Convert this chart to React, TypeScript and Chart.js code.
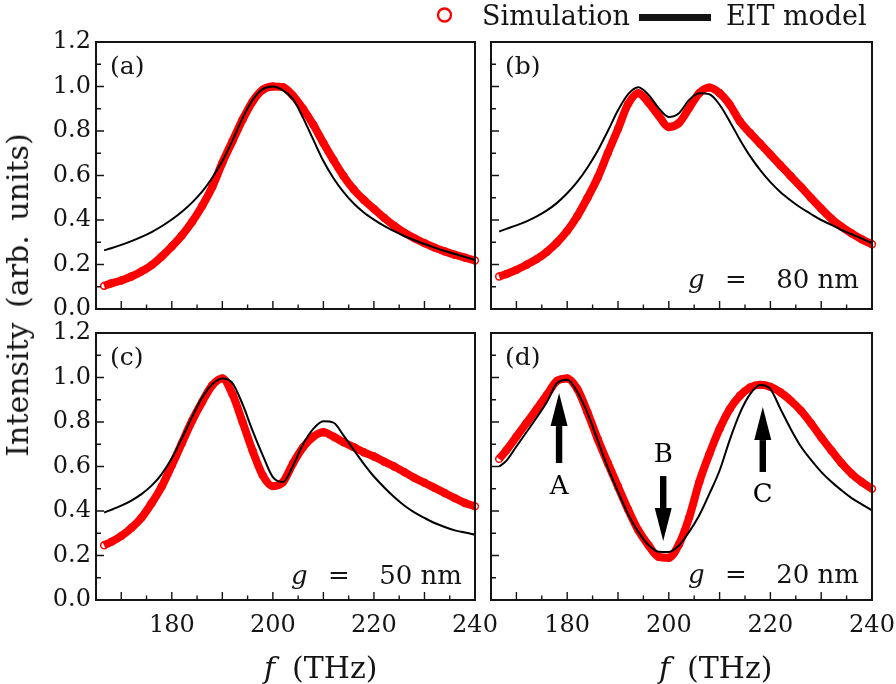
import React, { useEffect, useRef } from 'react';
import { Chart, registerables } from 'chart.js';

Chart.register(...registerables);

// ---------- data ----------
const FREQ = [166.6, 168, 170, 172, 174, 176, 178, 180, 182, 184, 186, 188, 190, 192, 194, 196, 198, 200, 202, 204, 206, 208, 210, 212, 214, 216, 218, 220, 222, 224, 226, 228, 230, 232, 234, 236, 238, 240];

const SIM_A = [0.104, 0.115, 0.128, 0.146, 0.169, 0.197, 0.236, 0.281, 0.331, 0.391, 0.463, 0.548, 0.657, 0.754, 0.851, 0.933, 0.985, 1.0, 0.997, 0.958, 0.899, 0.828, 0.746, 0.669, 0.597, 0.537, 0.49, 0.45, 0.41, 0.374, 0.343, 0.318, 0.296, 0.276, 0.259, 0.244, 0.231, 0.218];
const EIT_A = [0.264, 0.273, 0.288, 0.305, 0.324, 0.346, 0.372, 0.402, 0.437, 0.478, 0.527, 0.59, 0.665, 0.757, 0.858, 0.94, 0.988, 1.0, 0.983, 0.943, 0.858, 0.761, 0.665, 0.588, 0.525, 0.474, 0.434, 0.402, 0.374, 0.35, 0.328, 0.309, 0.292, 0.276, 0.261, 0.247, 0.234, 0.22];

const SIM_B = [0.146, 0.157, 0.176, 0.199, 0.224, 0.257, 0.299, 0.351, 0.418, 0.5, 0.59, 0.701, 0.809, 0.922, 0.97, 0.928, 0.869, 0.818, 0.836, 0.903, 0.97, 0.995, 0.97, 0.918, 0.843, 0.791, 0.743, 0.694, 0.645, 0.597, 0.549, 0.499, 0.451, 0.406, 0.37, 0.34, 0.313, 0.291];
const EIT_B = [0.348, 0.36, 0.376, 0.394, 0.416, 0.443, 0.477, 0.52, 0.572, 0.636, 0.711, 0.8, 0.893, 0.966, 0.997, 0.963, 0.903, 0.863, 0.88, 0.94, 0.97, 0.965, 0.918, 0.843, 0.761, 0.687, 0.624, 0.57, 0.525, 0.488, 0.455, 0.427, 0.4, 0.378, 0.355, 0.336, 0.316, 0.296];

const SIM_C = [0.246, 0.261, 0.288, 0.324, 0.37, 0.435, 0.51, 0.605, 0.705, 0.805, 0.89, 0.965, 0.996, 0.925, 0.8, 0.67, 0.56, 0.512, 0.53, 0.615, 0.687, 0.734, 0.754, 0.734, 0.709, 0.687, 0.664, 0.645, 0.622, 0.6, 0.575, 0.549, 0.527, 0.504, 0.481, 0.458, 0.436, 0.421];
const EIT_C = [0.393, 0.405, 0.424, 0.447, 0.476, 0.514, 0.566, 0.637, 0.727, 0.822, 0.91, 0.97, 0.996, 0.975, 0.88, 0.76, 0.65, 0.552, 0.53, 0.604, 0.701, 0.769, 0.803, 0.797, 0.739, 0.675, 0.612, 0.555, 0.507, 0.463, 0.425, 0.394, 0.369, 0.346, 0.328, 0.313, 0.303, 0.294];

const SIM_D = [0.634, 0.672, 0.734, 0.796, 0.858, 0.922, 0.985, 0.996, 0.948, 0.843, 0.724, 0.615, 0.51, 0.406, 0.313, 0.246, 0.194, 0.19, 0.25, 0.37, 0.53, 0.657, 0.769, 0.858, 0.918, 0.955, 0.967, 0.958, 0.933, 0.896, 0.851, 0.794, 0.731, 0.672, 0.615, 0.567, 0.53, 0.5];
const EIT_D = [0.6, 0.625, 0.69, 0.755, 0.82, 0.89, 0.975, 0.99, 0.935, 0.84, 0.718, 0.595, 0.487, 0.385, 0.306, 0.247, 0.217, 0.216, 0.245, 0.306, 0.381, 0.478, 0.582, 0.72, 0.84, 0.925, 0.966, 0.948, 0.858, 0.769, 0.69, 0.63, 0.576, 0.531, 0.493, 0.458, 0.43, 0.403];

const X_TICKS = [180, 200, 220, 240];
const Y_TICKS = [0, 0.2, 0.4, 0.6, 0.8, 1.0, 1.2];
const X_MAJOR_MARKS = [170, 180, 190, 200, 210, 220, 230, 240];
const X_MINOR_MARKS = [175, 185, 195, 205, 215, 225, 235];
const Y_MAJOR_MARKS = [0.2, 0.4, 0.6, 0.8, 1.0];
const Y_MINOR_MARKS = [0.1, 0.3, 0.5, 0.7, 0.9, 1.1];

const SERIES_NAMES = ['Simulation', 'EIT model'];
const PANEL_LABELS = ['(a)', '(b)', '(c)', '(d)'];
const GAP_VALUES = ['', '80 nm', '50 nm', '20 nm'];
const X_TITLE_VAR = 'f';
const X_TITLE_UNIT = '(THz)';
const Y_TITLE = 'Intensity (arb. units)';

const ARROW_LABELS = ['A', 'B', 'C'];
const ARROW_X = [178.4, 198.9, 218.5];
const ARROW_TAIL = [0.62, 0.557, 0.58];
const ARROW_TIP = [0.93, 0.265, 0.867];
const ARROW_LABEL_Y = [0.508, 0.652, 0.472];

// ---------- styles / layout ----------
const FONT = "'DejaVu Serif', serif";
const INK = '#141414';
const RED = 'rgb(255,0,0)';

type PanelSpec = {
  idx: number; sim: number[]; eit: number[];
  left: number; top: number; w: number; h: number;
  padTop: number; padRight: number; yW: number; xH: number;
  showX: boolean; showY: boolean; gBase: number;
};

const PANELS: PanelSpec[] = [
  { idx: 0, sim: SIM_A, eit: EIT_A, left: 0, top: 0, w: 515, h: 330, padTop: 42, padRight: 40, yW: 96, xH: 21, showX: false, showY: true, gBase: 21 },
  { idx: 1, sim: SIM_B, eit: EIT_B, left: 425, top: 0, w: 487, h: 330, padTop: 42, padRight: 40, yW: 66, xH: 21, showX: false, showY: false, gBase: 21 },
  { idx: 2, sim: SIM_C, eit: EIT_C, left: 0, top: 300, w: 515, h: 384, padTop: 33, padRight: 40, yW: 96, xH: 84, showX: true, showY: true, gBase: 16 },
  { idx: 3, sim: SIM_D, eit: EIT_D, left: 425, top: 300, w: 487, h: 384, padTop: 33, padRight: 40, yW: 66, xH: 84, showX: true, showY: false, gBase: 17 },
];

function decoPlugin(p: PanelSpec) {
  return {
    id: 'deco' + p.idx,
    afterDatasetsDraw(chart: any) {
      const { ctx, chartArea: ca, scales } = chart;
      const x = scales.x, y = scales.y;
      ctx.save();
      // inward tick marks
      ctx.strokeStyle = INK;
      ctx.lineWidth = 1.4;
      ctx.beginPath();
      X_MAJOR_MARKS.forEach((v) => { const px = x.getPixelForValue(v); ctx.moveTo(px, ca.bottom); ctx.lineTo(px, ca.bottom - 8); });
      X_MINOR_MARKS.forEach((v) => { const px = x.getPixelForValue(v); ctx.moveTo(px, ca.bottom); ctx.lineTo(px, ca.bottom - 4.5); });
      Y_MAJOR_MARKS.forEach((v) => { const py = y.getPixelForValue(v); ctx.moveTo(ca.left, py); ctx.lineTo(ca.left + 8, py); });
      Y_MINOR_MARKS.forEach((v) => { const py = y.getPixelForValue(v); ctx.moveTo(ca.left, py); ctx.lineTo(ca.left + 5, py); });
      ctx.stroke();
      // frame
      ctx.lineWidth = 2;
      ctx.strokeRect(ca.left, ca.top, ca.right - ca.left, ca.bottom - ca.top);

      ctx.fillStyle = INK;
      ctx.textBaseline = 'alphabetic';
      // panel label
      ctx.font = `25px ${FONT}`;
      ctx.textAlign = 'left';
      ctx.fillText(PANEL_LABELS[p.idx], ca.left + 14, ca.top + 32);

      // gap label
      const gv = GAP_VALUES[p.idx];
      if (gv) {
        const by = ca.bottom - p.gBase;
        ctx.font = `italic 26px ${FONT}`;
        ctx.textAlign = 'left';
        ctx.fillText('g', ca.right - 184, by);
        ctx.font = `26px ${FONT}`;
        ctx.textAlign = 'center';
        ctx.fillText('=', ca.right - 136, by);
        ctx.textAlign = 'right';
        ctx.fillText(gv, ca.right - 13, by);
      }

      // x title
      if (p.showX) {
        const by = ca.bottom + 78;
        ctx.textAlign = 'left';
        ctx.font = `italic 30px ${FONT}`;
        ctx.fillText(X_TITLE_VAR, ca.left + 168, by);
        ctx.font = `30px ${FONT}`;
        ctx.fillText(X_TITLE_UNIT, ca.left + 196, by);
      }

      // legend (top right)
      if (p.idx === 1) {
        const ds = chart.data.datasets;
        const ly = 25;
        ctx.strokeStyle = RED;
        ctx.lineWidth = 2.3;
        ctx.beginPath();
        ctx.arc(ca.left - 46.5, 15, 6.5, 0, Math.PI * 2);
        ctx.stroke();
        ctx.font = `27px ${FONT}`;
        ctx.textAlign = 'left';
        ctx.fillStyle = INK;
        ctx.fillText(ds[1].label, ca.left - 9, ly);
        ctx.fillRect(ca.left + 148, 14, 72, 7);
        ctx.fillText(ds[0].label, ca.left + 235, ly);
      }

      // arrows in (d)
      if (p.idx === 3) {
        ctx.fillStyle = '#000';
        ARROW_X.forEach((fx, i) => {
          const px = x.getPixelForValue(fx);
          const tail = y.getPixelForValue(ARROW_TAIL[i]);
          const tip = y.getPixelForValue(ARROW_TIP[i]);
          const dir = Math.sign(tip - tail);
          const base = tip - dir * 33;
          ctx.fillRect(px - 3.2, Math.min(tail, base), 6.4, Math.abs(base - tail) + 1);
          ctx.beginPath();
          ctx.moveTo(px, tip);
          ctx.lineTo(px - 8.5, base);
          ctx.lineTo(px + 8.5, base);
          ctx.closePath();
          ctx.fill();
          ctx.font = `26px ${FONT}`;
          ctx.textAlign = 'center';
          ctx.textBaseline = 'middle';
          ctx.fillText(ARROW_LABELS[i], px, y.getPixelForValue(ARROW_LABEL_Y[i]));
        });
      }
      ctx.restore();
    },
  };
}

function makeConfig(p: PanelSpec): any {
  return {
    type: 'line',
    data: {
      datasets: [
        {
          label: SERIES_NAMES[1],
          data: FREQ.map((f, i) => ({ x: f, y: p.eit[i] })),
          borderColor: '#000',
          borderWidth: 2,
          pointRadius: 0,
          cubicInterpolationMode: 'monotone',
          fill: false,
          order: 0,
        },
        {
          label: SERIES_NAMES[0],
          data: FREQ.map((f, i) => ({ x: f, y: p.sim[i] })),
          borderColor: RED,
          borderWidth: 8,
          pointRadius: 3.4,
          pointBorderWidth: 1.5,
          pointBorderColor: RED,
          pointBackgroundColor: 'rgba(0,0,0,0)',
          cubicInterpolationMode: 'monotone',
          fill: false,
          clip: false,
          order: 1,
        },
      ],
    },
    options: {
      responsive: false,
      devicePixelRatio: 1,
      animation: false,
      events: [],
      layout: { padding: { left: 0, top: p.padTop, right: p.padRight, bottom: 0 } },
      plugins: { legend: { display: false }, tooltip: { enabled: false } },
      scales: {
        x: {
          type: 'linear',
          min: 165,
          max: 240,
          afterBuildTicks: (s: any) => { s.ticks = X_TICKS.map((v) => ({ value: v })); },
          afterFit: (s: any) => { s.height = p.xH; },
          grid: { display: false, drawTicks: false },
          border: { display: false },
          ticks: {
            display: p.showX,
            autoSkip: false,
            maxRotation: 0,
            padding: 11,
            color: INK,
            font: { family: FONT, size: 24 },
          },
        },
        y: {
          type: 'linear',
          min: 0,
          max: 1.2,
          afterBuildTicks: (s: any) => { s.ticks = Y_TICKS.map((v) => ({ value: v })); },
          afterFit: (s: any) => { s.width = p.yW; },
          grid: { display: false, drawTicks: false },
          border: { display: false },
          ticks: {
            display: p.showY,
            padding: 5,
            color: INK,
            font: { family: FONT, size: 24 },
            callback: (v: any) => Number(v).toFixed(1),
          },
        },
      },
    },
    plugins: [decoPlugin(p)],
  };
}

function Panel({ spec }: { spec: PanelSpec }) {
  const ref = useRef<HTMLCanvasElement>(null);
  useEffect(() => {
    const chart = new Chart(ref.current as HTMLCanvasElement, makeConfig(spec));
    return () => chart.destroy();
  }, [spec]);
  return (
    <canvas
      ref={ref}
      width={spec.w}
      height={spec.h}
      style={{ position: 'absolute', left: spec.left, top: spec.top, width: spec.w, height: spec.h }}
    />
  );
}

export default function App() {
  return (
    <div style={{ position: 'fixed', left: 0, top: 0, width: 896, height: 684, overflow: 'hidden', background: '#fff' }}>
      {PANELS.map((p) => (
        <Panel key={p.idx} spec={p} />
      ))}
      <div
        style={{
          position: 'absolute',
          left: 18,
          top: 295,
          transform: 'translate(-50%, -50%) rotate(-90deg)',
          font: `30px ${FONT}`,
          lineHeight: '30px',
          whiteSpace: 'nowrap',
          wordSpacing: '5px',
          color: INK,
        }}
      >
        {Y_TITLE}
      </div>
    </div>
  );
}
